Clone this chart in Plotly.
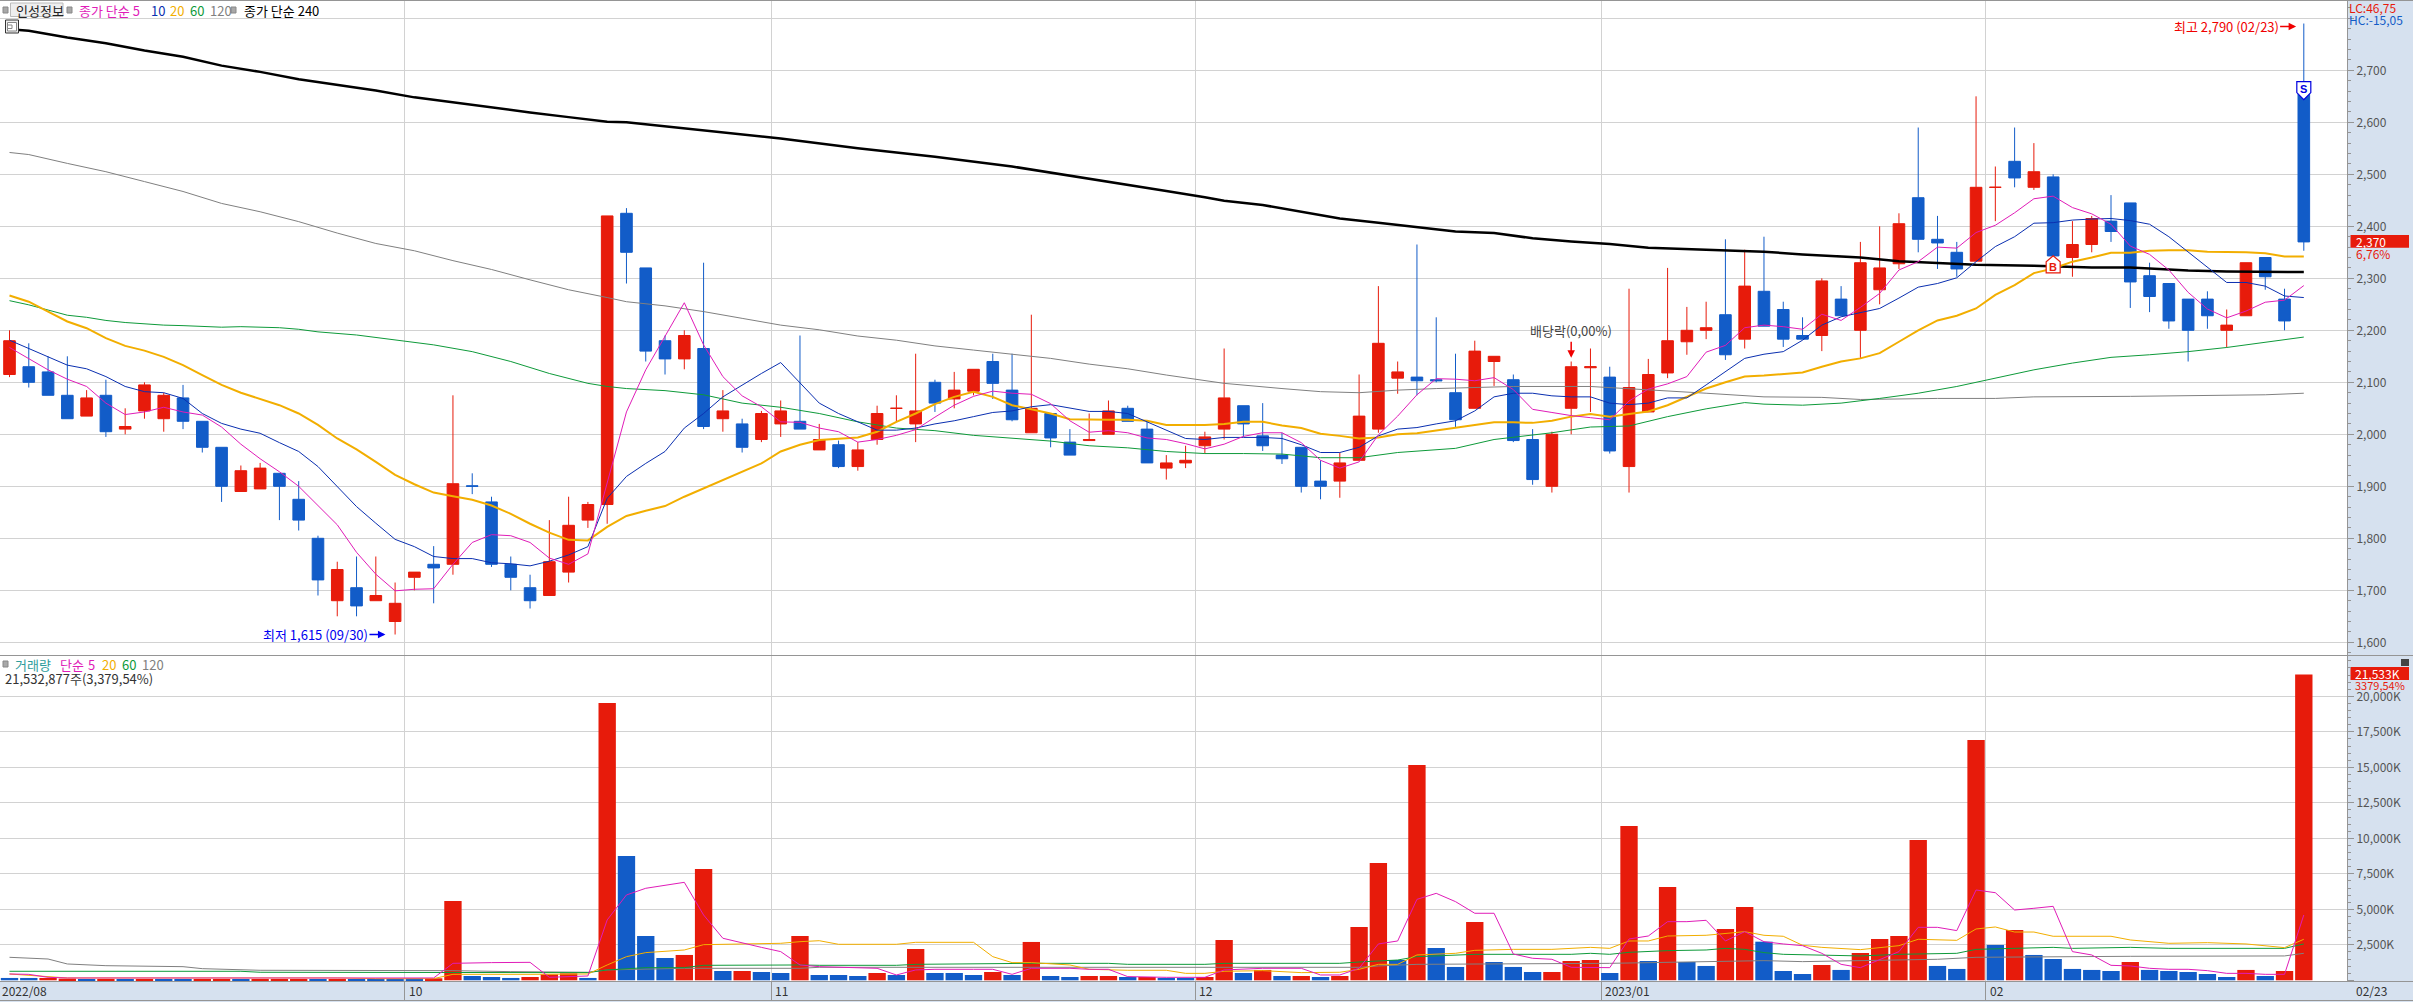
import plotly.graph_objects as go

W, H = 2413, 1002
PLOT_RIGHT = 2347

# ---------- price panel data ----------
opens = [2115,2130,2120,2075,2035,2075,2010,2045,2030,2070,2025,1975,1890,1895,1925,1875,1800,1680,1705,1680,
         1640,1725,1750,1750,1901,1870,1750,1705,1690,1735,1835,1865,2425,2320,2180,2145,2165,2030,2020,1990,
         2020,2025,1970,1980,1938,1990,2050,2020,2100,2068,2083,2140,2085,2003,2040,1985,1988,2000,2050,2010,
         1935,1945,1978,2010,2055,1997,1960,1975,1910,1910,1950,2010,2108,2110,2105,2080,2050,2140,2105,1990,
         1900,2050,2128,2110,1938,2043,2118,2178,2200,2230,2183,2275,2240,2190,2190,2260,2200,2278,2328,2455,
         2375,2350,2333,2475,2525,2475,2495,2340,2365,2410,2445,2305,2290,2260,2260,2200,2228,2340,2260,2665]
closes = [2180,2100,2075,2030,2070,2005,2015,2095,2075,2025,1975,1900,1930,1935,1900,1835,1720,1740,1670,1690,
          1675,1735,1743,1905,1900,1750,1725,1680,1755,1825,1865,2420,2350,2160,2145,2190,2015,2045,1975,2040,
          2045,2010,1990,1938,1970,2040,2050,2045,2060,2085,2125,2098,2028,2050,1993,1960,1990,2045,2025,1945,
          1945,1950,1995,2070,2020,1978,1953,1900,1900,1945,2035,2175,2120,2103,2103,2028,2160,2150,1988,1913,
          2000,2130,2130,1968,2090,2115,2180,2200,2205,2153,2285,2208,2183,2183,2295,2228,2330,2320,2405,2375,
          2368,2318,2475,2475,2493,2505,2343,2365,2415,2390,2293,2265,2218,2200,2228,2210,2330,2303,2218,2370]
highs = [2200,2175,2150,2150,2085,2105,2050,2100,2080,2095,2025,1975,1940,1945,1925,1910,1805,1755,1765,1765,
         1715,1735,1785,2075,1925,1880,1765,1730,1835,1880,1870,2420,2435,2320,2190,2200,2330,2085,2030,2045,
         2065,2190,2020,1988,1985,2055,2075,2155,2105,2120,2125,2155,2155,2230,2040,2010,2040,2065,2055,2025,
         1960,1978,2005,2165,2055,2060,2003,1975,1950,1965,2115,2285,2140,2365,2225,2155,2180,2150,2115,2010,
         2005,2140,2165,2130,2280,2145,2320,2245,2255,2375,2355,2380,2255,2225,2300,2285,2370,2400,2425,2590,
         2420,2370,2650,2515,2590,2560,2500,2410,2420,2460,2445,2330,2290,2260,2275,2240,2330,2340,2280,2790]
lows = [2110,2090,2075,2030,2035,1995,2000,2030,2005,2010,1965,1870,1890,1895,1835,1815,1690,1650,1650,1680,
        1615,1700,1675,1730,1885,1745,1700,1665,1690,1715,1820,1828,2290,2140,2115,2125,2010,2005,1965,1985,
        1995,2010,1970,1935,1930,1980,2025,1985,2043,2050,2075,2068,2025,2003,1975,1960,1988,2000,2025,1945,
        1913,1935,1963,1990,1995,1968,1943,1888,1875,1878,1950,2003,2078,2075,2100,2013,2050,2093,1985,1903,
        1888,2000,2043,1963,1888,2043,2108,2153,2183,2143,2165,2208,2168,2183,2160,2228,2145,2250,2318,2350,
        2318,2303,2333,2410,2475,2470,2343,2303,2350,2370,2243,2235,2203,2140,2203,2167,2228,2278,2200,2353]

ma5 = [2167,2146,2124,2106,2092,2060,2038,2043,2052,2043,2037,2014,1981,1953,1928,1900,1864,1826,1773,1731,
       1699,1702,1703,1750,1792,1807,1805,1792,1762,1750,1770,1909,2043,2124,2188,2253,2172,2111,2074,2053,
       2024,2023,2012,2005,1985,1990,1998,2009,2033,2056,2073,2083,2079,2077,2059,2026,2004,2007,2003,1993,
       1990,1982,1972,1981,1996,2003,2003,1984,1950,1935,1947,1999,2035,2076,2107,2106,2103,2109,2086,2048,
       2042,2036,2032,2028,2064,2087,2097,2111,2158,2171,2205,2210,2207,2202,2231,2219,2244,2271,2316,2332,
       2360,2358,2388,2402,2426,2453,2458,2436,2424,2404,2362,2346,2316,2273,2241,2224,2237,2254,2258,2286]
ma10 = [2181,2165,2149,2133,2126,2111,2092,2082,2080,2069,2040,2021,2010,2002,1984,1967,1938,1899,1861,1829,
        1798,1784,1765,1761,1761,1753,1751,1747,1756,1768,1784,1877,1919,1944,1967,2012,2040,2072,2095,2117,
        2138,2098,2060,2040,2024,2008,2008,2012,2020,2026,2034,2042,2045,2053,2057,2050,2044,2044,2040,2024,
        2008,1992,1990,1994,1994,1994,1992,1980,1965,1965,1975,1997,2010,2013,2020,2026,2045,2072,2079,2079,
        2074,2072,2072,2060,2057,2060,2070,2070,2095,2120,2146,2154,2159,2181,2210,2226,2234,2242,2262,2283,
        2290,2301,2332,2361,2380,2406,2407,2412,2414,2415,2411,2404,2380,2351,2322,2292,2292,2285,2266,2263]
ma20 = [2267,2255,2236,2217,2204,2185,2170,2161,2149,2133,2114,2095,2080,2068,2056,2040,2018,1992,1971,1947,
        1922,1904,1888,1881,1874,1863,1847,1828,1811,1797,1796,1822,1843,1853,1862,1880,1896,1912,1928,1944,
        1967,1980,1989,1991,1994,2005,2024,2040,2058,2072,2082,2072,2056,2048,2040,2029,2028,2028,2028,2026,
        2018,2018,2018,2020,2024,2024,2017,2012,2001,1997,1992,1994,2000,2002,2007,2012,2018,2023,2023,2022,
        2026,2034,2039,2034,2039,2044,2056,2072,2088,2100,2111,2113,2116,2119,2130,2140,2146,2156,2178,2200,
        2219,2228,2242,2268,2287,2310,2319,2332,2340,2349,2349,2353,2354,2354,2351,2351,2350,2348,2342,2342]
ma60_x = [0,1,2,3,4,5,6,8,9,11,12,14,15,16,18,20,22,24,26,28,30,31,32,34,36,38,40,42,44,46,48,50,52,54,56,58,60,62,
          64,66,68,70,72,75,77,80,82,84,86,88,90,91,93,95,97,99,101,103,105,107,109,111,113,115,117,119]
ma60 = [2257,2249,2239,2229,2225,2219,2215,2210,2209,2206,2207,2205,2202,2197,2191,2181,2172,2159,2140,2117,2098,2092,
        2088,2084,2076,2060,2052,2040,2024,2012,2007,1998,1992,1987,1978,1974,1967,1963,
        1963,1962,1955,1955,1965,1973,1990,2003,2014,2016,2034,2049,2061,2058,2056,2060,2069,2079,2092,2108,2124,2137,
        2148,2153,2159,2167,2177,2187]
ma120_x = [0,1,3,5,7,9,11,13,15,17,19,21,23,25,27,29,31,32,34,36,38,40,42,44,46,48,50,52,54,56,58,60,62,
           63,66,68,70,72,74,78,82,84,86,88,91,93,94,96,98,100,103,105,110,114,117,119]
ma120 = [2542,2538,2521,2505,2486,2467,2444,2428,2409,2387,2367,2353,2334,2317,2297,2278,2263,2255,2247,2236,2223,
         2210,2201,2189,2181,2170,2162,2154,2146,2135,2126,2114,2104,
         2098,2088,2082,2080,2085,2088,2092,2092,2088,2083,2079,2072,2071,2071,2067,2068,2069,2069,2072,2073,2074,2076,2079]
ma240_x = [0,1,3,5,7,9,11,13,15,17,19,21,23,25,27,29,31,32,36,40,44,48,52,56,60,62,
           63,65,67,69,71,73,75,77,79,81,83,85,87,89,91,93,94,96,98,100,102,105,108,110,113,115,119]
ma240 = [2779,2776,2763,2752,2738,2726,2709,2697,2683,2672,2661,2648,2638,2628,2619,2610,2601,2600,2585,2569,2550,2534,2515,2492,2468,2456,
         2449,2441,2428,2415,2407,2399,2390,2387,2377,2371,2366,2359,2356,2354,2351,2346,2344,2340,2333,2329,2326,2324,2321,2321,2315,2313,2312]

# ---------- volume panel data (thousand shares) ----------
volumes = [165,165,165,120,70,95,70,70,70,70,70,70,70,70,70,70,70,70,70,70,
           70,140,140,5590,305,235,165,235,420,490,165,19530,8750,3120,1570,1785,7840,655,655,585,
           515,3120,375,375,305,515,375,2205,515,515,375,585,375,2700,305,235,305,305,235,235,
           165,165,235,2840,515,730,305,305,235,305,3755,8260,1430,15160,2275,940,4110,1290,940,585,
           585,1360,1430,515,10870,1360,6570,1290,1010,3615,5165,2720,655,445,1080,730,1925,2910,3120,9880,
           1010,800,16920,2490,3545,1785,1500,800,730,655,1290,730,655,585,445,235,730,305,655,21533]
vol_up = [0,0,1,1,0,1,0,1,0,0,1,1,0,1,1,1,0,1,0,0,
          0,0,1,1,0,0,0,1,1,1,0,1,0,0,0,1,1,0,1,0,
          0,1,0,0,0,1,0,1,0,0,0,1,0,1,0,0,1,1,0,1,
          0,0,1,1,0,1,0,1,0,1,1,1,0,1,0,0,1,0,0,0,
          1,1,1,0,1,0,1,0,0,1,1,0,0,0,1,0,1,1,1,1,
          0,0,1,0,1,0,0,0,0,0,1,0,0,0,0,0,1,0,1,1]
vma5_x = [0,1,2,3,22,23,25,27,28,30,31,32,33,35,36,37,39,40,41,42,45,46,47,48,50,51,52,53,55,56,57,58,60,62,63,65,67,68,69,70,71,72,73,74,75,76,77,78,79,80,81,82,
          83,84,85,86,87,88,89,90,91,92,93,94,95,96,97,98,99,100,101,102,103,104,105,106,107,108,109,110,111,112,113,114,115,116,117,118,119]
vma5 = [445,420,210,165,165,1195,1245,1265,210,305,4250,6010,6480,6900,4600,2960,2320,2020,1080,960,845,375,730,775,775,775,420,845,845,775,775,260,210,210,730,845,845,375,375,845,2560,2770,5700,6125,5540,4720,4720,1850,1550,1480,915,915,
        890,2910,3120,4130,4130,4225,2770,3425,2720,2560,2440,1900,1125,890,1430,2020,3730,3730,3500,6360,6170,4950,5070,5210,2020,1785,1055,1010,845,775,775,680,490,490,420,420,4600]
vma20_x = [0,2,3,17,19,22,23,27,30,31,32,33,35,36,38,40,41,42,43,46,47,50,51,52,53,55,56,58,60,61,62,63,65,67,69,70,71,72,73,75,76,78,80,81,82,
           83,84,85,86,88,89,90,91,92,93,94,96,97,98,99,101,102,103,104,105,106,109,110,112,114,116,118,119]
vma20 = [445,260,165,165,117,117,420,420,445,1080,1665,1950,2135,2510,2535,2605,2720,2790,2535,2535,2675,2675,1665,1245,1245,1080,775,705,705,490,490,635,680,540,565,775,1125,1125,1785,1900,2110,2180,2180,2250,2320,
         2250,2770,2770,3120,3170,3310,3425,3170,3100,2465,2320,2160,2275,2440,2890,2815,3615,3755,3400,3400,3100,3100,2840,2605,2650,2560,2300,2890]
vma60_x = [0,12,13,23,24,30,31,33,35,36,41,42,46,47,53,57,58,62,63,69,70,72,73,75,76,81,82,83,84,86,88,89,90,91,92,96,98,101,102,104,106,107,110,112,118,119]
vma60 = [635,635,565,565,565,540,730,890,890,1055,1080,1055,1055,1125,1195,1195,1125,1125,1195,1195,1290,1430,1665,1760,1830,1830,1900,1830,1970,2090,2135,2250,2180,1950,1830,1715,1830,1900,2180,2250,2320,2250,2320,2250,2250,2560]
vma120_x = [0,2,3,5,9,10,13,23,26,30,31,35,41,42,70,71,73,80,82,83,91,93,100,102,110,118,119]
vma120 = [1620,1500,1150,1030,960,820,705,680,610,565,730,845,845,915,915,1010,1125,1175,1195,1195,1385,1315,1480,1620,1690,1715,1900]

# ---------- labels ----------
month_pos = [20.5, 39.5, 61.5, 82.55, 102.5]
month_labels = ["10", "11", "12", "2023/01", "02"]
price_ticks = [1600,1700,1800,1900,2000,2100,2200,2300,2400,2500,2600,2700,2800]
price_labels = ["1,600","1,700","1,800","1,900","2,000","2,100","2,200","2,300","2,400","2,500","2,600","2,700",""]
vol_ticks = [0,2500,5000,7500,10000,12500,15000,17500,20000]
vol_labels = ["","2,500K","5,000K","7,500K","10,000K","12,500K","15,000K","17,500K","20,000K"]
buy_x, buy_y, sell_x, sell_y = 106, 2326, 119, 2661

RED, BLUE = "#E71B0B", "#125CC8"
MAGENTA, NAVY, ORANGE, GREEN, GRAY = "#E01CB8", "#0A2FB0", "#F2AE00", "#0E9A3A", "#808080"
GRID, AXIS, BAND = "#D2D2D2", "#959595", "#D6E1EF"
FONT = "Liberation Sans Narrow, Noto Sans CJK KR"
KFONT = "Noto Sans CJK KR, Liberation Sans Narrow"

idx = list(range(len(closes)))
fig = go.Figure()


def line(x, y, color, width, axis):
    fig.add_trace(go.Scatter(x=x, y=y, mode="lines", line=dict(color=color, width=width),
                             xaxis="x" if axis == "y" else "x2", yaxis=axis,
                             showlegend=False, hoverinfo="skip"))


line(ma240_x, ma240, "#000000", 2.5, "y")
line(ma120_x, ma120, GRAY, 1, "y")
line(ma60_x, ma60, GREEN, 1, "y")
line(idx, ma20, ORANGE, 2, "y")
line(idx, ma10, NAVY, 1, "y")
line(idx, ma5, MAGENTA, 1, "y")

fig.add_trace(go.Candlestick(
    x=idx, open=opens, high=highs, low=lows, close=closes, whiskerwidth=0,
    increasing=dict(line=dict(color=RED, width=1), fillcolor=RED),
    decreasing=dict(line=dict(color=BLUE, width=1), fillcolor=BLUE),
    xaxis="x", yaxis="y", showlegend=False))

fig.add_trace(go.Bar(x=idx, y=volumes, width=0.9,
                     marker=dict(color=[RED if u else BLUE for u in vol_up], line=dict(width=0)),
                     xaxis="x2", yaxis="y2", showlegend=False))
line(vma120_x, vma120, GRAY, 1, "y2")
line(vma60_x, vma60, GREEN, 1, "y2")
line(vma20_x, vma20, ORANGE, 1, "y2")
line(vma5_x, vma5, MAGENTA, 1, "y2")


def fx(px):
    return px / W


def fy(py):
    return 1 - py / H


ann = []


def text(px, py, s, color, size=13, anchor="left", family=FONT, **kw):
    ann.append(dict(xref="paper", yref="paper", x=fx(px), y=fy(py), text=s, showarrow=False,
                    xanchor=anchor, yanchor="middle", font=dict(color=color, size=size, family=family),
                    borderpad=0, **kw))


# top legend
text(15, 10, "인성정보", "#222222", family=KFONT)
text(78, 10, "종가 단순 5", MAGENTA, family=KFONT)
text(149.5, 10, "10", NAVY)
text(169, 10, "20", ORANGE)
text(188.5, 10, "60", GREEN)
text(208.5, 10, "120", GRAY)
text(243, 10, "종가 단순 240", "#000000", family=KFONT)
# volume legend
text(14, 664, "거래량", "#2E9C9C", family=KFONT)
text(58.5, 664, "단순", MAGENTA, family=KFONT)
text(87, 664, "5", MAGENTA)
text(100.5, 664, "20", ORANGE)
text(120.5, 664, "60", GREEN)
text(141, 664, "120", GRAY)
text(4, 678, "21,532,877주(3,379,54%)", "#333333", family=FONT + ", Noto Sans CJK KR")
# right side labels
text(2348, 8, "LC:46,75", RED, size=12)
text(2348, 20, "HC:-15,05", BLUE, size=12)
text(2355, 241.5, "2,370", "#FFFFFF", size=12)
text(2355, 253.5, "6,76%", RED, size=12)
text(2354, 673.5, "21,533K", "#FFFFFF", size=12)
text(2354, 684.5, "3379,54%", RED, size=11)
# axis band labels
text(1, 990, "2022/08", "#333333", size=12)
for pos, lab in zip(month_pos, month_labels):
    ann.append(dict(xref="x2", yref="paper", x=pos, y=fy(990), text=lab, showarrow=False, xanchor="left",
                    yanchor="middle", xshift=2, font=dict(color="#333333", size=12, family=FONT)))
text(2355, 990, "02/23", "#333333", size=12)

# extreme labels
ann.append(dict(xref="x", yref="y", x=19.5, y=1615, text="최저 1,615 (09/30)", ax=-70, ay=0, showarrow=True,
                arrowhead=2, arrowsize=1, arrowwidth=1.5, arrowcolor="#0000F0",
                font=dict(color="#0000F0", size=13, family=KFONT)))
ann.append(dict(xref="x", yref="y", x=118.6, y=2790, yshift=-3, text="최고 2,790 (02/23)", ax=-70, ay=0, showarrow=True,
                arrowhead=2, arrowsize=1, arrowwidth=1.5, arrowcolor="#F00000",
                font=dict(color="#F00000", size=13, family=KFONT)))
ann.append(dict(xref="x", yref="y", x=81, y=2147, text="배당락(0,00%)", ax=0, ay=-27, showarrow=True,
                arrowhead=2, arrowsize=1, arrowwidth=1.5, arrowcolor="#F00000",
                font=dict(color="#444444", size=13, family=KFONT)))
# buy / sell flags
ann.append(dict(xref="x", yref="y", x=buy_x, y=buy_y, text="<b>B</b>", showarrow=False, yshift=-2,
                font=dict(color=RED, size=11, family="Liberation Sans")))
ann.append(dict(xref="x", yref="y", x=sell_x, y=sell_y, text="<b>S</b>", showarrow=False, yshift=2,
                font=dict(color="#0000E0", size=11, family="Liberation Sans")))


def paper_rect(x0, x1, y0, y1, fill, edge=None, layer="above"):
    return dict(type="rect", xref="paper", yref="paper", x0=fx(x0), x1=fx(x1), y0=fy(y1), y1=fy(y0),
                fillcolor=fill, layer=layer,
                line=dict(color=edge, width=1) if edge else dict(width=0))


def paper_hline(py):
    return dict(type="line", xref="paper", yref="paper", x0=0, x1=1, y0=fy(py), y1=fy(py), line=dict(color=AXIS, width=1))


shapes = [paper_hline(0.5), paper_hline(655.5), paper_hline(981.5), paper_hline(1000.5),
          paper_rect(2350.5, 2409, 235, 247.7, RED, layer="below"),
          paper_rect(2350.5, 2409, 667, 680, RED, layer="below"),
          dict(type="path", xsizemode="pixel", ysizemode="pixel", xref="x", yref="y", xanchor=buy_x, yanchor=buy_y,
               path="M -7 -8 L 7 -8 L 7 3 L 0 9 L -7 3 Z", fillcolor="#FFFFFF", line=dict(color=RED, width=1.2)),
          dict(type="path", xsizemode="pixel", ysizemode="pixel", xref="x", yref="y", xanchor=sell_x, yanchor=sell_y,
               path="M -7 9 L 7 9 L 7 -2 L 0 -9 L -7 -2 Z", fillcolor="#FFFFFF", line=dict(color="#0000E0", width=1.2)),
          paper_rect(3, 8, 7, 13, "#A8A8A8", "#888888"),
          paper_rect(10.5, 63, 3, 16.5, "#EEEEEE", "#BBBBBB", layer="below"),
          paper_rect(67, 72, 7, 13, "#A8A8A8", "#888888"),
          paper_rect(231, 236, 7, 13, "#A8A8A8", "#888888"),
          paper_rect(3, 8, 661, 667, "#A8A8A8", "#888888"),
          paper_rect(5.5, 18.5, 20, 33, "#EEEEEE", "#333333"),
          paper_rect(7.5, 16.5, 22.5, 31, "#FFFFFF", "#888888"),
          paper_rect(7.5, 12, 25, 28.5, "#FFFFFF", "#888888"),
          paper_rect(2401, 2409, 659, 666, "#444444")]

x_range = [-0.493, 121.24]
minor_style = dict(ticks="outside", ticklen=3, tickcolor=AXIS, showgrid=False)
fig.update_layout(
    width=W, height=H, margin=dict(l=0, r=0, t=0, b=0), autosize=False,
    paper_bgcolor=BAND, plot_bgcolor="#FFFFFF", showlegend=False, boxgap=0.14, bargap=0.1,
    hovermode=False, annotations=ann, shapes=shapes,
    font=dict(family=FONT, size=12, color="#555555"),
    xaxis=dict(domain=[0, PLOT_RIGHT / W], range=x_range, anchor="y", rangeslider=dict(visible=False),
               tickmode="array", tickvals=month_pos, showticklabels=False, ticks="",
               showgrid=True, gridcolor=GRID, gridwidth=1, zeroline=False),
    xaxis2=dict(domain=[0, PLOT_RIGHT / W], range=x_range, anchor="y2", matches="x",
                tickmode="array", tickvals=month_pos, showticklabels=False, ticks="outside", ticklen=18,
                tickcolor=AXIS, showgrid=True, gridcolor=GRID, gridwidth=1, zeroline=False),
    yaxis=dict(domain=[fy(655), fy(1)], range=[1575.6, 2833.3], side="right", anchor="x",
               tickmode="array", tickvals=price_ticks, ticktext=price_labels, ticks="outside", ticklen=6,
               tickcolor=AXIS, showgrid=True, gridcolor=GRID, gridwidth=1, zeroline=False, showline=True,
               linecolor=AXIS, tickfont=dict(color="#555555", size=12, family=FONT),
               minor=dict(tickmode="linear", tick0=0, dtick=20, **minor_style)),
    yaxis2=dict(domain=[fy(981), fy(656)], range=[-49, 22838], side="right", anchor="x2",
                tickmode="array", tickvals=vol_ticks, ticktext=vol_labels, ticks="outside", ticklen=6,
                tickcolor=AXIS, showgrid=True, gridcolor=GRID, gridwidth=1, zeroline=False, showline=True,
                linecolor=AXIS, tickfont=dict(color="#555555", size=12, family=FONT),
                minor=dict(tickmode="linear", tick0=0, dtick=500, **minor_style)),
)

fig.write_html("out.html", config={"displayModeBar": False},
               post_script="document.body.style.margin='0';document.body.style.overflow='hidden';")
